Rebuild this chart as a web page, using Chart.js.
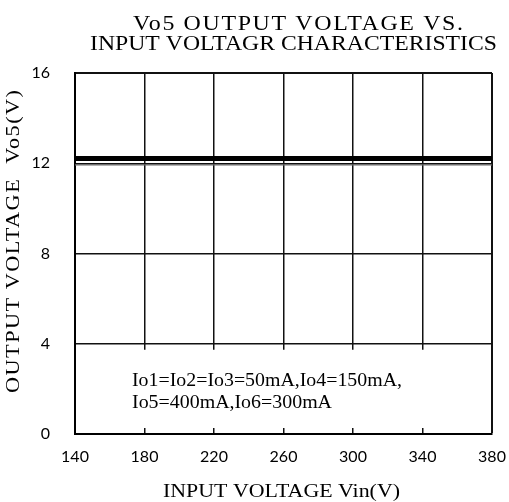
<!DOCTYPE html>
<html>
<head>
<meta charset="utf-8">
<script src="https://cdn.jsdelivr.net/npm/chart.js@4.4.1/dist/chart.umd.min.js"></script>
<style>
html,body{margin:0;padding:0;background:#fff;}
#wrap{width:509px;height:502px;}
</style>
</head>
<body>
<div id="wrap"><canvas id="c" width="509" height="502"></canvas></div>
<script>
const inputVoltage = [140, 180, 220, 260, 300, 340, 380];
const vo5Main = [12.21, 12.21, 12.21, 12.21, 12.21, 12.21, 12.21];
const vo5Low = [11.93, 11.93, 11.93, 11.93, 11.93, 11.93, 11.93];
const xTicks = [140, 180, 220, 260, 300, 340, 380];
const yTicks = [0, 4, 8, 12, 16];
const titleLines = ['Vo5 OUTPUT VOLTAGE VS.', 'INPUT VOLTAGR CHARACTERISTICS'];
const noteLines = ['Io1=Io2=Io3=50mA,Io4=150mA,', 'Io5=400mA,Io6=300mA'];
const xTitle = 'INPUT VOLTAGE Vin(V)';
const yTitle = 'OUTPUT VOLTAGE  Vo5(V)';

const SERIF = '"Liberation Serif", "DejaVu Serif", serif';

// draw text stretched (and spaced if needed) so it spans a given width
function fitText(ctx, text, font, xLeft, yMid, width, rotate) {
  ctx.save();
  ctx.font = font;
  ctx.letterSpacing = '0px';
  const w = ctx.measureText(text).width;
  const sx = Math.min(width / w, 1.14);
  const sp = Math.max(0, (width / sx - w) / (text.length - 1));
  ctx.letterSpacing = sp + 'px';
  ctx.fillStyle = '#000';
  ctx.textBaseline = 'middle';
  ctx.textAlign = 'left';
  ctx.translate(xLeft, yMid);
  if (rotate) ctx.rotate(-Math.PI / 2);
  ctx.scale(sx, 1);
  ctx.fillText(text, 0, 0);
  ctx.restore();
}

const overlay = {
  id: 'overlay',
  beforeDatasetsDraw(chart) {
    const {ctx, chartArea, scales} = chart;
    const y4 = scales.y.getPixelForValue(4);
    ctx.save();
    ctx.fillStyle = '#fff';
    ctx.fillRect(chartArea.left + 1.5, y4 + 6, chartArea.right - chartArea.left - 3, chartArea.bottom - 6 - (y4 + 6));
    ctx.restore();
    fitText(ctx, noteLines[0], '19.5px ' + SERIF, 132, 381, 270);
    fitText(ctx, noteLines[1], '19.5px ' + SERIF, 132, 403, 200);
  },
  afterDraw(chart) {
    const {ctx} = chart;
    fitText(ctx, titleLines[0], '21px ' + SERIF, 133, 24, 330);
    fitText(ctx, titleLines[1], '21px ' + SERIF, 90, 44, 407);
    fitText(ctx, xTitle, '19.5px ' + SERIF, 163, 492, 237);
    fitText(ctx, yTitle, '19.5px ' + SERIF, 14, 393, 303, true);
  }
};

new Chart(document.getElementById('c'), {
  type: 'line',
  data: {
    datasets: [
      {label: 'Vo5', data: vo5Main, borderColor: '#000', borderWidth: 5, pointRadius: 0, fill: false, tension: 0},
      {label: 'Vo5 low', data: vo5Low, borderColor: '#666', borderWidth: 1.2, pointRadius: 0, fill: false, tension: 0}
    ].map(d => ({...d, data: d.data.map((v, i) => ({x: inputVoltage[i], y: v}))}))
  },
  plugins: [overlay],
  options: {
    responsive: false,
    animation: false,
    devicePixelRatio: 1,
    layout: {padding: {top: 73, right: 17, left: 0, bottom: 0}},
    plugins: {legend: {display: false}, tooltip: {enabled: false}, title: {display: false}},
    scales: {
      x: {
        type: 'linear', min: 140, max: 380,
        afterBuildTicks(s) { s.ticks = xTicks.map(v => ({value: v})); },
        afterFit(s) { s.height = 68; s.paddingLeft = 0; s.paddingRight = 0; },
        grid: {color: '#111', lineWidth: c => (c.index === xTicks.length - 1 ? 2 : 1.5), drawTicks: false},
        border: {display: true, color: '#000', width: 2},
        ticks: {padding: 13, color: '#000', font: {family: 'Lato', size: 16}, maxRotation: 0, autoSkip: false},
        title: {display: false, text: xTitle}
      },
      y: {
        type: 'linear', min: 0, max: 16,
        afterBuildTicks(s) { s.ticks = yTicks.map(v => ({value: v})); },
        afterFit(s) { s.width = 75; s.paddingTop = 0; s.paddingBottom = 0; },
        grid: {color: '#111', lineWidth: c => (c.index === yTicks.length - 1 ? 2 : 1.5), drawTicks: false},
        border: {display: true, color: '#000', width: 2},
        ticks: {padding: 25, color: '#000', font: {family: 'Lato', size: 16}, autoSkip: false},
        title: {display: false, text: yTitle}
      }
    }
  }
});
</script>
</body>
</html>
